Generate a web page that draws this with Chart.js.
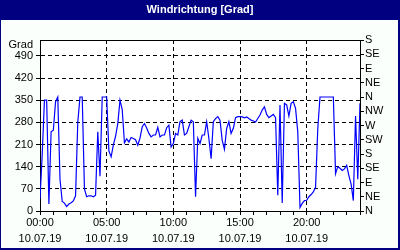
<!DOCTYPE html>
<html>
<head>
<meta charset="utf-8">
<script src="https://cdn.jsdelivr.net/npm/chart.js@4"></script>
<style>
  html, body { margin: 0; padding: 0; background: #fbfffb; }
  canvas { display: block; }
</style>
</head>
<body>
<canvas id="windChart" width="400" height="250"></canvas>
<script>
// Wind direction readings, one every 10 minutes from 00:00 to 24:00
const intervalMinutes = 10;
const windDir = [
  38, 180, 350, 350, 22, 250, 255, 345, 360, 100, 30, 25,       // 00:00 - 01:50
  14, 22, 26, 32, 48, 280, 360, 360, 70, 45, 48, 48,            // 02:00 - 03:50
  45, 50, 250, 110, 360, 360, 360, 190, 171, 208, 236, 276,     // 04:00 - 05:50
  350, 320, 215, 228, 218, 232, 229, 225, 208, 230, 266, 276,   // 06:00 - 07:50
  262, 245, 234, 240, 240, 264, 234, 240, 240, 263, 271, 202,   // 08:00 - 09:50
  213, 245, 240, 282, 287, 240, 245, 266, 287, 282, 45, 230,    // 10:00 - 11:50
  213, 240, 240, 282, 229, 165, 282, 292, 298, 287, 223, 195,   // 12:00 - 13:50
  261, 282, 245, 261, 295, 298, 298, 297, 294, 297, 292, 287,   // 14:00 - 15:50
  284, 281, 292, 303, 319, 329, 305, 295, 300, 305, 295, 50,    // 16:00 - 17:50
  335, 25, 340, 335, 300, 340, 345, 324, 250, 11, 24, 33,       // 18:00 - 19:50
  34, 45, 52, 60, 75, 260, 360, 360, 360, 360, 360, 360,        // 20:00 - 21:50
  360, 118, 140, 135, 128, 133, 144, 112, 85, 33, 300, 100,     // 22:00 - 23:50
  340                                                            // 24:00
];

// Axis labels
const timeLabels = ["00:00", "05:00", "10:00", "15:00", "20:00"];
const dateLabel = "10.07.19";
const gradTicks = [0, 70, 140, 210, 280, 350, 420, 490];
const dirLabels = ["N", "NE", "E", "SE", "S", "SW", "W", "NW", "N", "NE", "E", "SE", "S"];
const dirStep = 45;
const yMax = 540;

const points = windDir.map((v, i) => ({ x: (i * intervalMinutes) / 60, y: v }));

const FONT = "'Liberation Sans', Arial, sans-serif";
const tickFont = { family: FONT, size: 11, lineHeight: "16px" };

// Background, title bar, frame
const framePlugin = {
  id: "frame",
  beforeDraw(chart) {
    const { ctx, width, height, chartArea } = chart;
    ctx.save();
    ctx.fillStyle = "#000080";
    ctx.fillRect(0, 0, width, height);
    ctx.fillStyle = "#fbfffb";
    ctx.fillRect(1, 20, width - 3, height - 22);
    ctx.fillStyle = "#ffffff";
    ctx.fillRect(chartArea.left, chartArea.top, chartArea.right - chartArea.left, chartArea.bottom - chartArea.top);

    ctx.fillStyle = "#ffffff";
    ctx.font = "bold 11px " + FONT;
    ctx.textAlign = "center";
    ctx.textBaseline = "middle";
    ctx.fillText("Windrichtung [Grad]", width / 2, 10);
    ctx.restore();
  },
  afterDraw(chart) {
    const { ctx, chartArea } = chart;
    ctx.save();
    ctx.strokeStyle = "#000";
    ctx.lineWidth = 1;
    ctx.beginPath();
    ctx.moveTo(chartArea.left, chartArea.top + 0.5);
    ctx.lineTo(chartArea.right, chartArea.top + 0.5);
    ctx.stroke();

    ctx.fillStyle = "#000";
    ctx.font = "11px " + FONT;
    ctx.textAlign = "right";
    ctx.textBaseline = "middle";
    ctx.fillText("Grad", 33, 45);
    ctx.restore();
  },
};

new Chart(document.getElementById("windChart"), {
  type: "line",
  data: {
    datasets: [
      {
        data: points,
        borderColor: "#0000ff",
        borderWidth: 1.2,
        pointRadius: 0,
        tension: 0,
        fill: false,
      },
    ],
  },
  options: {
    responsive: false,
    animation: false,
    devicePixelRatio: 1,
    layout: { padding: { top: 40, left: 0, right: 0, bottom: 0 } },
    plugins: {
      legend: { display: false },
      tooltip: { enabled: false },
      title: { display: false },
    },
    scales: {
      x: {
        type: "linear",
        min: 0,
        max: 24,
        afterBuildTicks: (s) => {
          s.ticks = Array.from({ length: 25 }, (_, h) => ({ value: h }));
        },
        afterFit: (s) => {
          s.height = 39;
        },
        ticks: {
          autoSkip: false,
          maxRotation: 0,
          padding: 0,
          color: "#000",
          font: tickFont,
          callback: (value) => {
            const idx = value / 5;
            if (Number.isInteger(idx) && idx < timeLabels.length) {
              return [timeLabels[idx], dateLabel];
            }
            return "";
          },
        },
        grid: {
          color: (c) =>
            c.tick && c.tick.value % 5 === 0 && c.tick.value > 0 && c.tick.value < 24
              ? "#000"
              : "rgba(0,0,0,0)",
          tickColor: "#000",
          tickLength: 4,
          tickBorderDash: [],
        },
        border: { color: "#000", width: 1, dash: [4, 3] },
      },
      y: {
        position: "left",
        min: 0,
        max: yMax,
        afterBuildTicks: (s) => {
          s.ticks = gradTicks.map((v) => ({ value: v }));
        },
        afterFit: (s) => {
          s.width = 40;
        },
        ticks: {
          autoSkip: false,
          padding: 3,
          color: "#000",
          font: tickFont,
        },
        grid: {
          color: "#000",
          tickColor: "#000",
          tickLength: 4,
          tickBorderDash: [],
        },
        border: { color: "#000", width: 1, dash: [4, 3] },
      },
      y2: {
        position: "right",
        min: 0,
        max: yMax,
        afterBuildTicks: (s) => {
          s.ticks = dirLabels.map((_, i) => ({ value: i * dirStep }));
        },
        afterFit: (s) => {
          s.width = 40;
        },
        ticks: {
          autoSkip: false,
          padding: 1,
          color: "#000",
          font: tickFont,
          callback: (value) => dirLabels[Math.round(value / dirStep)],
        },
        grid: {
          drawOnChartArea: false,
          tickColor: "#000",
          tickLength: 4,
        },
        border: { color: "#000", width: 1 },
      },
    },
  },
  plugins: [framePlugin],
});
</script>
</body>
</html>
